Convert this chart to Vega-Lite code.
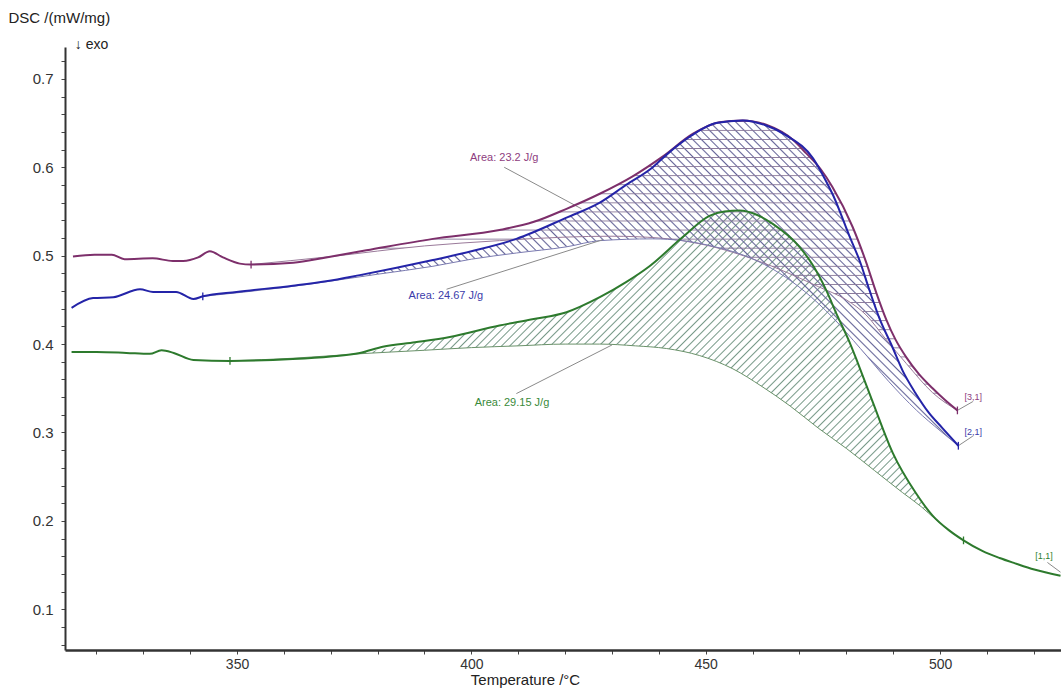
{
  "$schema": "https://vega.github.io/schema/vega-lite/v6.json",
  "width": 996,
  "height": 603,
  "autosize": "none",
  "padding": {"left": 65, "top": 47, "right": 0, "bottom": 38},
  "background": "white",
  "config": {"view": {"stroke": null}, "font": "Liberation Sans"},
  "datasets": {
    "curves": [
      {"s":"p","T":315,"v":0.499},{"s":"p","T":319.6,"v":0.501},{"s":"p","T":323.3,"v":0.501},{"s":"p","T":326,"v":0.496},{"s":"p","T":332,"v":0.497},{"s":"p","T":336.3,"v":0.494},{"s":"p","T":338.5,"v":0.494},{"s":"p","T":341.7,"v":0.498},{"s":"p","T":344.2,"v":0.505},{"s":"p","T":347,"v":0.498},{"s":"p","T":350.6,"v":0.491},{"s":"p","T":353,"v":0.490},{"s":"p","T":362,"v":0.492},{"s":"p","T":369,"v":0.498},{"s":"p","T":377.6,"v":0.506},{"s":"p","T":391.8,"v":0.519},{"s":"p","T":406,"v":0.529},{"s":"p","T":413.2,"v":0.538},{"s":"p","T":420.3,"v":0.553},{"s":"p","T":427.4,"v":0.570},{"s":"p","T":434.5,"v":0.590},{"s":"p","T":440.8,"v":0.612},{"s":"p","T":447.3,"v":0.638},{"s":"p","T":452.9,"v":0.651},{"s":"p","T":457.9,"v":0.653},{"s":"p","T":462.9,"v":0.648},{"s":"p","T":468.6,"v":0.631},{"s":"p","T":471.4,"v":0.616},{"s":"p","T":474.5,"v":0.598},{"s":"p","T":477,"v":0.578},{"s":"p","T":481.3,"v":0.533},{"s":"p","T":484.2,"v":0.493},{"s":"p","T":486.4,"v":0.458},{"s":"p","T":488.5,"v":0.428},{"s":"p","T":490.5,"v":0.405},{"s":"p","T":492.8,"v":0.385},{"s":"p","T":495.5,"v":0.366},{"s":"p","T":498.4,"v":0.350},{"s":"p","T":501,"v":0.337},{"s":"p","T":503.7,"v":0.325},
      {"s":"b","T":314.7,"v":0.441},{"s":"b","T":319.3,"v":0.452},{"s":"b","T":323.6,"v":0.453},{"s":"b","T":329.3,"v":0.462},{"s":"b","T":332.1,"v":0.459},{"s":"b","T":337,"v":0.459},{"s":"b","T":340.7,"v":0.451},{"s":"b","T":342.7,"v":0.454},{"s":"b","T":349.9,"v":0.459},{"s":"b","T":361.9,"v":0.466},{"s":"b","T":369,"v":0.471},{"s":"b","T":376.2,"v":0.478},{"s":"b","T":391.8,"v":0.495},{"s":"b","T":400,"v":0.505},{"s":"b","T":409.6,"v":0.519},{"s":"b","T":420.3,"v":0.543},{"s":"b","T":427.4,"v":0.560},{"s":"b","T":433,"v":0.580},{"s":"b","T":438.7,"v":0.600},{"s":"b","T":441.6,"v":0.614},{"s":"b","T":447,"v":0.636},{"s":"b","T":452.2,"v":0.650},{"s":"b","T":457.9,"v":0.653},{"s":"b","T":462.5,"v":0.648},{"s":"b","T":467.2,"v":0.636},{"s":"b","T":472.9,"v":0.610},{"s":"b","T":475.6,"v":0.585},{"s":"b","T":477.2,"v":0.568},{"s":"b","T":480.6,"v":0.523},{"s":"b","T":483,"v":0.492},{"s":"b","T":484.8,"v":0.463},{"s":"b","T":487,"v":0.430},{"s":"b","T":489.8,"v":0.397},{"s":"b","T":492,"v":0.370},{"s":"b","T":494.7,"v":0.345},{"s":"b","T":497.5,"v":0.323},{"s":"b","T":500.5,"v":0.305},{"s":"b","T":503.9,"v":0.285},
      {"s":"g","T":314.7,"v":0.391},{"s":"g","T":320,"v":0.391},{"s":"g","T":326.4,"v":0.390},{"s":"g","T":331.4,"v":0.389},{"s":"g","T":333.9,"v":0.393},{"s":"g","T":336.5,"v":0.390},{"s":"g","T":340.7,"v":0.382},{"s":"g","T":348.5,"v":0.381},{"s":"g","T":361.9,"v":0.383},{"s":"g","T":370,"v":0.386},{"s":"g","T":376.2,"v":0.390},{"s":"g","T":381.1,"v":0.397},{"s":"g","T":388,"v":0.402},{"s":"g","T":395.4,"v":0.408},{"s":"g","T":406,"v":0.421},{"s":"g","T":413,"v":0.428},{"s":"g","T":420.3,"v":0.436},{"s":"g","T":427.4,"v":0.453},{"s":"g","T":433,"v":0.470},{"s":"g","T":438,"v":0.488},{"s":"g","T":445.1,"v":0.521},{"s":"g","T":450.8,"v":0.545},{"s":"g","T":454,"v":0.550},{"s":"g","T":457.2,"v":0.551},{"s":"g","T":461,"v":0.546},{"s":"g","T":464.3,"v":0.536},{"s":"g","T":470,"v":0.510},{"s":"g","T":473,"v":0.488},{"s":"g","T":475.7,"v":0.461},{"s":"g","T":478,"v":0.433},{"s":"g","T":480.7,"v":0.402},{"s":"g","T":482.5,"v":0.378},{"s":"g","T":485.6,"v":0.335},{"s":"g","T":489.9,"v":0.277},{"s":"g","T":494.9,"v":0.231},{"s":"g","T":498.4,"v":0.206},{"s":"g","T":502,"v":0.189},{"s":"g","T":505,"v":0.178},{"s":"g","T":509,"v":0.166},{"s":"g","T":512.7,"v":0.158},{"s":"g","T":516,"v":0.152},{"s":"g","T":520.1,"v":0.145},{"s":"g","T":525.7,"v":0.138}
    ],
    "bases": [
      {"s":"p","T":353,"v":0.490},{"s":"p","T":370,"v":0.499},{"s":"p","T":390,"v":0.511},{"s":"p","T":406,"v":0.517},{"s":"p","T":420,"v":0.521},{"s":"p","T":430,"v":0.522},{"s":"p","T":440,"v":0.520},{"s":"p","T":450,"v":0.512},{"s":"p","T":458,"v":0.500},{"s":"p","T":466,"v":0.484},{"s":"p","T":474,"v":0.465},{"s":"p","T":480,"v":0.450},{"s":"p","T":484.2,"v":0.433},{"s":"p","T":488.5,"v":0.405},{"s":"p","T":492.8,"v":0.378},{"s":"p","T":498.4,"v":0.345},{"s":"p","T":503.7,"v":0.325},
      {"s":"b","T":342.7,"v":0.454},{"s":"b","T":360,"v":0.464},{"s":"b","T":380,"v":0.479},{"s":"b","T":391.8,"v":0.488},{"s":"b","T":400,"v":0.496},{"s":"b","T":409.6,"v":0.503},{"s":"b","T":420.3,"v":0.510},{"s":"b","T":427.4,"v":0.517},{"s":"b","T":438.7,"v":0.519},{"s":"b","T":445,"v":0.517},{"s":"b","T":452,"v":0.510},{"s":"b","T":459.3,"v":0.498},{"s":"b","T":465.8,"v":0.480},{"s":"b","T":471,"v":0.460},{"s":"b","T":477.1,"v":0.430},{"s":"b","T":483,"v":0.395},{"s":"b","T":489,"v":0.358},{"s":"b","T":495,"v":0.325},{"s":"b","T":500,"v":0.302},{"s":"b","T":503.9,"v":0.285},
      {"s":"g","T":348.5,"v":0.381},{"s":"g","T":362,"v":0.384},{"s":"g","T":376,"v":0.389},{"s":"g","T":390,"v":0.393},{"s":"g","T":400,"v":0.396},{"s":"g","T":410,"v":0.398},{"s":"g","T":420,"v":0.400},{"s":"g","T":427.4,"v":0.400},{"s":"g","T":435,"v":0.398},{"s":"g","T":441.6,"v":0.395},{"s":"g","T":448.7,"v":0.387},{"s":"g","T":455.8,"v":0.372},{"s":"g","T":462,"v":0.352},{"s":"g","T":468,"v":0.330},{"s":"g","T":474,"v":0.305},{"s":"g","T":480,"v":0.282},{"s":"g","T":486,"v":0.257},{"s":"g","T":492,"v":0.232},{"s":"g","T":496,"v":0.216},{"s":"g","T":499,"v":0.202},{"s":"g","T":502,"v":0.189},{"s":"g","T":505,"v":0.178}
    ],
    "regions": [
      {"s":"g","T":348.5,"hi":0.381,"lo":0.381},{"s":"g","T":362,"hi":0.383,"lo":0.383},{"s":"g","T":376,"hi":0.390,"lo":0.389},{"s":"g","T":390,"hi":0.403,"lo":0.393},{"s":"g","T":400,"hi":0.413,"lo":0.396},{"s":"g","T":410,"hi":0.425,"lo":0.398},{"s":"g","T":420,"hi":0.436,"lo":0.400},{"s":"g","T":427.4,"hi":0.453,"lo":0.400},{"s":"g","T":435,"hi":0.476,"lo":0.398},{"s":"g","T":441.6,"hi":0.503,"lo":0.395},{"s":"g","T":448.7,"hi":0.537,"lo":0.387},{"s":"g","T":455.8,"hi":0.551,"lo":0.372},{"s":"g","T":462,"hi":0.543,"lo":0.352},{"s":"g","T":468,"hi":0.520,"lo":0.330},{"s":"g","T":474,"hi":0.478,"lo":0.305},{"s":"g","T":480,"hi":0.412,"lo":0.282},{"s":"g","T":486,"hi":0.330,"lo":0.257},{"s":"g","T":492,"hi":0.255,"lo":0.232},{"s":"g","T":496,"hi":0.222,"lo":0.216},{"s":"g","T":499,"hi":0.202,"lo":0.202},
      {"s":"b","T":342.7,"hi":0.454,"lo":0.454},{"s":"b","T":360,"hi":0.465,"lo":0.464},{"s":"b","T":380,"hi":0.481,"lo":0.479},{"s":"b","T":391.8,"hi":0.495,"lo":0.488},{"s":"b","T":400,"hi":0.505,"lo":0.496},{"s":"b","T":409.6,"hi":0.519,"lo":0.503},{"s":"b","T":420.3,"hi":0.543,"lo":0.510},{"s":"b","T":427.4,"hi":0.560,"lo":0.517},{"s":"b","T":438.7,"hi":0.600,"lo":0.519},{"s":"b","T":445,"hi":0.628,"lo":0.517},{"s":"b","T":452,"hi":0.649,"lo":0.510},{"s":"b","T":459.3,"hi":0.652,"lo":0.498},{"s":"b","T":465.8,"hi":0.640,"lo":0.480},{"s":"b","T":471,"hi":0.620,"lo":0.460},{"s":"b","T":477.1,"hi":0.569,"lo":0.430},{"s":"b","T":483,"hi":0.492,"lo":0.395},{"s":"b","T":489,"hi":0.406,"lo":0.358},{"s":"b","T":495,"hi":0.342,"lo":0.325},{"s":"b","T":500,"hi":0.308,"lo":0.302},{"s":"b","T":503.9,"hi":0.285,"lo":0.285},
      {"s":"p","T":353,"hi":0.490,"lo":0.490},{"s":"p","T":370,"hi":0.499,"lo":0.499},{"s":"p","T":390,"hi":0.518,"lo":0.511},{"s":"p","T":406,"hi":0.529,"lo":0.517},{"s":"p","T":420,"hi":0.552,"lo":0.521},{"s":"p","T":430,"hi":0.577,"lo":0.522},{"s":"p","T":440,"hi":0.609,"lo":0.520},{"s":"p","T":450,"hi":0.646,"lo":0.512},{"s":"p","T":458,"hi":0.653,"lo":0.500},{"s":"p","T":466,"hi":0.639,"lo":0.484},{"s":"p","T":474,"hi":0.601,"lo":0.465},{"s":"p","T":480,"hi":0.548,"lo":0.450},{"s":"p","T":484.2,"hi":0.493,"lo":0.433},{"s":"p","T":488.5,"hi":0.428,"lo":0.405},{"s":"p","T":492.8,"hi":0.385,"lo":0.378},{"s":"p","T":498.4,"hi":0.350,"lo":0.345},{"s":"p","T":503.7,"hi":0.325,"lo":0.325}
    ],
    "marks": [
      {"s":"p","T":353,"v":0.490},{"s":"p","T":503.7,"v":0.325},
      {"s":"b","T":342.7,"v":0.454},{"s":"b","T":503.9,"v":0.285},
      {"s":"g","T":348.5,"v":0.381},{"s":"g","T":505,"v":0.178}
    ],
    "leaders": [
      {"id":"a1","T":407,"v":0.600},{"id":"a1","T":423.5,"v":0.553},
      {"id":"a2","T":394.7,"v":0.462},{"id":"a2","T":428,"v":0.518},
      {"id":"a3","T":409.6,"v":0.344},{"id":"a3","T":430,"v":0.399},
      {"id":"i3","T":503.7,"v":0.325},{"id":"i3","T":507,"v":0.335},
      {"id":"i2","T":503.9,"v":0.285},{"id":"i2","T":507,"v":0.296},
      {"id":"i1","T":522.9,"v":0.153},{"id":"i1","T":525.7,"v":0.142}
    ],
    "arealabels": [
      {"s":"p","T":399.7,"v":0.611,"text":"Area: 23.2 J/g"},
      {"s":"b","T":386.6,"v":0.454,"text":"Area: 24.67 J/g"},
      {"s":"g","T":400.7,"v":0.333,"text":"Area: 29.15 J/g"}
    ],
    "idlabels": [
      {"s":"p","T":505.2,"v":0.340,"text":"[3,1]"},
      {"s":"b","T":505.2,"v":0.301,"text":"[2,1]"},
      {"s":"g","T":520.3,"v":0.160,"text":"[1,1]"}
    ],
    "notes": [
      {"T":315.4,"v":0.738,"text":"↓ exo"}
    ]
  },
  "encoding": {
    "x": {
      "field": "T", "type": "quantitative",
      "scale": {"domain": [313.3, 525.8], "nice": false, "zero": false},
      "axis": {
        "title": "Temperature /°C", "titleX": 460, "titleY": 29, "titleAlign": "center", "titleBaseline": "middle",
        "titleFontSize": 15, "titleFontWeight": "normal", "titleColor": "#222",
        "values": [320,330,340,350,360,370,380,390,400,410,420,430,440,450,460,470,480,490,500,510,520],
        "labelExpr": "datum.value % 50 === 0 ? datum.label : ''",
        "grid": false, "domainColor": "#333", "domainWidth": 2.5, "tickColor": "#444", "tickSize": 4, "tickWidth": 1,
        "labelFontSize": 14, "labelColor": "#333", "labelPadding": 3
      }
    },
    "y": {
      "field": "v", "type": "quantitative",
      "scale": {"domain": [0.054, 0.736], "nice": false, "zero": false},
      "axis": {
        "title": "DSC /(mW/mg)", "titleAngle": 0, "titleX": -57, "titleY": -30, "titleAlign": "left", "titleBaseline": "middle",
        "titleFontSize": 15, "titleFontWeight": "normal", "titleColor": "#222",
        "values": [0.06,0.08,0.1,0.12,0.14,0.16,0.18,0.2,0.22,0.24,0.26,0.28,0.3,0.32,0.34,0.36,0.38,0.4,0.42,0.44,0.46,0.48,0.5,0.52,0.54,0.56,0.58,0.6,0.62,0.64,0.66,0.68,0.7,0.72],
        "labelExpr": "abs(datum.value*10 - round(datum.value*10)) < 0.001 ? format(datum.value, '.1f') : ''",
        "grid": false, "domainColor": "#333", "domainWidth": 2, "tickColor": "#444", "tickSize": 4, "tickWidth": 1,
        "labelFontSize": 15, "labelColor": "#333", "labelPadding": 8
      }
    }
  },
  "resolve": {"scale": {"color": "independent", "stroke": "independent", "fill": "independent"}},
  "layer": [
    {
      "data": {"name": "regions"},
      "transform": [{"filter": "datum.s === 'g'"}],
      "mark": {"type": "area", "interpolate": "monotone", "fill": {"gradient": "linear", "x1": 0, "y1": 0, "x2": 1.2066, "y2": 0.5278, "stops": [
{"offset":0,"color":"#7980"},{"offset":0.0014,"color":"#798"},{"offset":0.0028,"color":"#7980"},
{"offset":0.008,"color":"#7980"},{"offset":0.0094,"color":"#798"},{"offset":0.0108,"color":"#7980"},
{"offset":0.016,"color":"#7980"},{"offset":0.0174,"color":"#798"},{"offset":0.0188,"color":"#7980"},
{"offset":0.024,"color":"#7980"},{"offset":0.0254,"color":"#798"},{"offset":0.0268,"color":"#7980"},
{"offset":0.032,"color":"#7980"},{"offset":0.0334,"color":"#798"},{"offset":0.0348,"color":"#7980"},
{"offset":0.04,"color":"#7980"},{"offset":0.0414,"color":"#798"},{"offset":0.0428,"color":"#7980"},
{"offset":0.048,"color":"#7980"},{"offset":0.0494,"color":"#798"},{"offset":0.0508,"color":"#7980"},
{"offset":0.056,"color":"#7980"},{"offset":0.0574,"color":"#798"},{"offset":0.0588,"color":"#7980"},
{"offset":0.064,"color":"#7980"},{"offset":0.0654,"color":"#798"},{"offset":0.0668,"color":"#7980"},
{"offset":0.072,"color":"#7980"},{"offset":0.0734,"color":"#798"},{"offset":0.0748,"color":"#7980"},
{"offset":0.08,"color":"#7980"},{"offset":0.0814,"color":"#798"},{"offset":0.0828,"color":"#7980"},
{"offset":0.088,"color":"#7980"},{"offset":0.0894,"color":"#798"},{"offset":0.0908,"color":"#7980"},
{"offset":0.096,"color":"#7980"},{"offset":0.0974,"color":"#798"},{"offset":0.0988,"color":"#7980"},
{"offset":0.104,"color":"#7980"},{"offset":0.1054,"color":"#798"},{"offset":0.1068,"color":"#7980"},
{"offset":0.112,"color":"#7980"},{"offset":0.1134,"color":"#798"},{"offset":0.1148,"color":"#7980"},
{"offset":0.12,"color":"#7980"},{"offset":0.1214,"color":"#798"},{"offset":0.1228,"color":"#7980"},
{"offset":0.128,"color":"#7980"},{"offset":0.1294,"color":"#798"},{"offset":0.1308,"color":"#7980"},
{"offset":0.136,"color":"#7980"},{"offset":0.1374,"color":"#798"},{"offset":0.1388,"color":"#7980"},
{"offset":0.144,"color":"#7980"},{"offset":0.1454,"color":"#798"},{"offset":0.1468,"color":"#7980"},
{"offset":0.152,"color":"#7980"},{"offset":0.1534,"color":"#798"},{"offset":0.1548,"color":"#7980"},
{"offset":0.16,"color":"#7980"},{"offset":0.1614,"color":"#798"},{"offset":0.1628,"color":"#7980"},
{"offset":0.168,"color":"#7980"},{"offset":0.1694,"color":"#798"},{"offset":0.1708,"color":"#7980"},
{"offset":0.176,"color":"#7980"},{"offset":0.1774,"color":"#798"},{"offset":0.1788,"color":"#7980"},
{"offset":0.184,"color":"#7980"},{"offset":0.1854,"color":"#798"},{"offset":0.1868,"color":"#7980"},
{"offset":0.192,"color":"#7980"},{"offset":0.1934,"color":"#798"},{"offset":0.1948,"color":"#7980"},
{"offset":0.2,"color":"#7980"},{"offset":0.2014,"color":"#798"},{"offset":0.2028,"color":"#7980"},
{"offset":0.208,"color":"#7980"},{"offset":0.2094,"color":"#798"},{"offset":0.2108,"color":"#7980"},
{"offset":0.216,"color":"#7980"},{"offset":0.2174,"color":"#798"},{"offset":0.2188,"color":"#7980"},
{"offset":0.224,"color":"#7980"},{"offset":0.2254,"color":"#798"},{"offset":0.2268,"color":"#7980"},
{"offset":0.232,"color":"#7980"},{"offset":0.2334,"color":"#798"},{"offset":0.2348,"color":"#7980"},
{"offset":0.24,"color":"#7980"},{"offset":0.2414,"color":"#798"},{"offset":0.2428,"color":"#7980"},
{"offset":0.248,"color":"#7980"},{"offset":0.2494,"color":"#798"},{"offset":0.2508,"color":"#7980"},
{"offset":0.256,"color":"#7980"},{"offset":0.2574,"color":"#798"},{"offset":0.2588,"color":"#7980"},
{"offset":0.264,"color":"#7980"},{"offset":0.2654,"color":"#798"},{"offset":0.2668,"color":"#7980"},
{"offset":0.272,"color":"#7980"},{"offset":0.2734,"color":"#798"},{"offset":0.2748,"color":"#7980"},
{"offset":0.28,"color":"#7980"},{"offset":0.2814,"color":"#798"},{"offset":0.2828,"color":"#7980"},
{"offset":0.288,"color":"#7980"},{"offset":0.2894,"color":"#798"},{"offset":0.2908,"color":"#7980"},
{"offset":0.296,"color":"#7980"},{"offset":0.2974,"color":"#798"},{"offset":0.2988,"color":"#7980"},
{"offset":0.304,"color":"#7980"},{"offset":0.3054,"color":"#798"},{"offset":0.3068,"color":"#7980"},
{"offset":0.312,"color":"#7980"},{"offset":0.3134,"color":"#798"},{"offset":0.3148,"color":"#7980"},
{"offset":0.32,"color":"#7980"},{"offset":0.3214,"color":"#798"},{"offset":0.3228,"color":"#7980"},
{"offset":0.328,"color":"#7980"},{"offset":0.3294,"color":"#798"},{"offset":0.3308,"color":"#7980"},
{"offset":0.336,"color":"#7980"},{"offset":0.3374,"color":"#798"},{"offset":0.3388,"color":"#7980"},
{"offset":0.344,"color":"#7980"},{"offset":0.3454,"color":"#798"},{"offset":0.3468,"color":"#7980"},
{"offset":0.352,"color":"#7980"},{"offset":0.3534,"color":"#798"},{"offset":0.3548,"color":"#7980"},
{"offset":0.36,"color":"#7980"},{"offset":0.3614,"color":"#798"},{"offset":0.3628,"color":"#7980"},
{"offset":0.368,"color":"#7980"},{"offset":0.3694,"color":"#798"},{"offset":0.3708,"color":"#7980"},
{"offset":0.376,"color":"#7980"},{"offset":0.3774,"color":"#798"},{"offset":0.3788,"color":"#7980"},
{"offset":0.384,"color":"#7980"},{"offset":0.3854,"color":"#798"},{"offset":0.3868,"color":"#7980"},
{"offset":0.392,"color":"#7980"},{"offset":0.3934,"color":"#798"},{"offset":0.3948,"color":"#7980"},
{"offset":0.4,"color":"#7980"},{"offset":0.4014,"color":"#798"},{"offset":0.4028,"color":"#7980"},
{"offset":0.408,"color":"#7980"},{"offset":0.4094,"color":"#798"},{"offset":0.4108,"color":"#7980"},
{"offset":0.416,"color":"#7980"},{"offset":0.4174,"color":"#798"},{"offset":0.4188,"color":"#7980"},
{"offset":0.424,"color":"#7980"},{"offset":0.4254,"color":"#798"},{"offset":0.4268,"color":"#7980"},
{"offset":0.432,"color":"#7980"},{"offset":0.4334,"color":"#798"},{"offset":0.4348,"color":"#7980"},
{"offset":0.44,"color":"#7980"},{"offset":0.4414,"color":"#798"},{"offset":0.4428,"color":"#7980"},
{"offset":0.448,"color":"#7980"},{"offset":0.4494,"color":"#798"},{"offset":0.4508,"color":"#7980"},
{"offset":0.456,"color":"#7980"},{"offset":0.4574,"color":"#798"},{"offset":0.4588,"color":"#7980"},
{"offset":0.464,"color":"#7980"},{"offset":0.4654,"color":"#798"},{"offset":0.4668,"color":"#7980"},
{"offset":0.472,"color":"#7980"},{"offset":0.4734,"color":"#798"},{"offset":0.4748,"color":"#7980"},
{"offset":0.48,"color":"#7980"},{"offset":0.4814,"color":"#798"},{"offset":0.4828,"color":"#7980"},
{"offset":0.488,"color":"#7980"},{"offset":0.4894,"color":"#798"},{"offset":0.4908,"color":"#7980"},
{"offset":0.496,"color":"#7980"},{"offset":0.4974,"color":"#798"},{"offset":0.4988,"color":"#7980"},
{"offset":0.504,"color":"#7980"},{"offset":0.5054,"color":"#798"},{"offset":0.5068,"color":"#7980"},
{"offset":0.512,"color":"#7980"},{"offset":0.5134,"color":"#798"},{"offset":0.5148,"color":"#7980"},
{"offset":0.52,"color":"#7980"},{"offset":0.5214,"color":"#798"},{"offset":0.5228,"color":"#7980"},
{"offset":0.528,"color":"#7980"},{"offset":0.5294,"color":"#798"},{"offset":0.5308,"color":"#7980"},
{"offset":0.536,"color":"#7980"},{"offset":0.5374,"color":"#798"},{"offset":0.5388,"color":"#7980"},
{"offset":0.544,"color":"#7980"},{"offset":0.5454,"color":"#798"},{"offset":0.5468,"color":"#7980"},
{"offset":0.552,"color":"#7980"},{"offset":0.5534,"color":"#798"},{"offset":0.5548,"color":"#7980"},
{"offset":0.56,"color":"#7980"},{"offset":0.5614,"color":"#798"},{"offset":0.5628,"color":"#7980"},
{"offset":0.568,"color":"#7980"},{"offset":0.5694,"color":"#798"},{"offset":0.5708,"color":"#7980"},
{"offset":0.576,"color":"#7980"},{"offset":0.5774,"color":"#798"},{"offset":0.5788,"color":"#7980"},
{"offset":0.584,"color":"#7980"},{"offset":0.5854,"color":"#798"},{"offset":0.5868,"color":"#7980"},
{"offset":0.592,"color":"#7980"},{"offset":0.5934,"color":"#798"},{"offset":0.5948,"color":"#7980"},
{"offset":0.6,"color":"#7980"},{"offset":0.6014,"color":"#798"},{"offset":0.6028,"color":"#7980"},
{"offset":0.608,"color":"#7980"},{"offset":0.6094,"color":"#798"},{"offset":0.6108,"color":"#7980"},
{"offset":0.616,"color":"#7980"},{"offset":0.6174,"color":"#798"},{"offset":0.6188,"color":"#7980"},
{"offset":0.624,"color":"#7980"},{"offset":0.6254,"color":"#798"},{"offset":0.6268,"color":"#7980"},
{"offset":0.632,"color":"#7980"},{"offset":0.6334,"color":"#798"},{"offset":0.6348,"color":"#7980"},
{"offset":0.64,"color":"#7980"},{"offset":0.6414,"color":"#798"},{"offset":0.6428,"color":"#7980"},
{"offset":0.648,"color":"#7980"},{"offset":0.6494,"color":"#798"},{"offset":0.6508,"color":"#7980"},
{"offset":0.656,"color":"#7980"},{"offset":0.6574,"color":"#798"},{"offset":0.6588,"color":"#7980"},
{"offset":0.664,"color":"#7980"},{"offset":0.6654,"color":"#798"},{"offset":0.6668,"color":"#7980"},
{"offset":0.672,"color":"#7980"},{"offset":0.6734,"color":"#798"},{"offset":0.6748,"color":"#7980"},
{"offset":0.68,"color":"#7980"},{"offset":0.6814,"color":"#798"},{"offset":0.6828,"color":"#7980"},
{"offset":0.688,"color":"#7980"},{"offset":0.6894,"color":"#798"},{"offset":0.6908,"color":"#7980"},
{"offset":0.696,"color":"#7980"},{"offset":0.6974,"color":"#798"},{"offset":0.6988,"color":"#7980"},
{"offset":0.704,"color":"#7980"},{"offset":0.7054,"color":"#798"},{"offset":0.7068,"color":"#7980"},
{"offset":0.712,"color":"#7980"},{"offset":0.7134,"color":"#798"},{"offset":0.7148,"color":"#7980"},
{"offset":0.72,"color":"#7980"},{"offset":0.7214,"color":"#798"},{"offset":0.7228,"color":"#7980"},
{"offset":0.728,"color":"#7980"},{"offset":0.7294,"color":"#798"},{"offset":0.7308,"color":"#7980"},
{"offset":0.736,"color":"#7980"},{"offset":0.7374,"color":"#798"},{"offset":0.7388,"color":"#7980"},
{"offset":0.744,"color":"#7980"},{"offset":0.7454,"color":"#798"},{"offset":0.7468,"color":"#7980"},
{"offset":0.752,"color":"#7980"},{"offset":0.7534,"color":"#798"},{"offset":0.7548,"color":"#7980"},
{"offset":0.76,"color":"#7980"},{"offset":0.7614,"color":"#798"},{"offset":0.7628,"color":"#7980"},
{"offset":0.768,"color":"#7980"},{"offset":0.7694,"color":"#798"},{"offset":0.7708,"color":"#7980"},
{"offset":0.776,"color":"#7980"},{"offset":0.7774,"color":"#798"},{"offset":0.7788,"color":"#7980"},
{"offset":0.784,"color":"#7980"},{"offset":0.7854,"color":"#798"},{"offset":0.7868,"color":"#7980"},
{"offset":0.792,"color":"#7980"},{"offset":0.7934,"color":"#798"},{"offset":0.7948,"color":"#7980"},
{"offset":0.8,"color":"#7980"},{"offset":0.8014,"color":"#798"},{"offset":0.8028,"color":"#7980"},
{"offset":0.808,"color":"#7980"},{"offset":0.8094,"color":"#798"},{"offset":0.8108,"color":"#7980"},
{"offset":0.816,"color":"#7980"},{"offset":0.8174,"color":"#798"},{"offset":0.8188,"color":"#7980"},
{"offset":0.824,"color":"#7980"},{"offset":0.8254,"color":"#798"},{"offset":0.8268,"color":"#7980"},
{"offset":0.832,"color":"#7980"},{"offset":0.8334,"color":"#798"},{"offset":0.8348,"color":"#7980"},
{"offset":0.84,"color":"#7980"},{"offset":0.8414,"color":"#798"},{"offset":0.8428,"color":"#7980"},
{"offset":0.848,"color":"#7980"},{"offset":0.8494,"color":"#798"},{"offset":0.8508,"color":"#7980"},
{"offset":0.856,"color":"#7980"},{"offset":0.8574,"color":"#798"},{"offset":0.8588,"color":"#7980"},
{"offset":0.864,"color":"#7980"},{"offset":0.8654,"color":"#798"},{"offset":0.8668,"color":"#7980"},
{"offset":0.872,"color":"#7980"},{"offset":0.8734,"color":"#798"},{"offset":0.8748,"color":"#7980"},
{"offset":0.88,"color":"#7980"},{"offset":0.8814,"color":"#798"},{"offset":0.8828,"color":"#7980"},
{"offset":0.888,"color":"#7980"},{"offset":0.8894,"color":"#798"},{"offset":0.8908,"color":"#7980"},
{"offset":0.896,"color":"#7980"},{"offset":0.8974,"color":"#798"},{"offset":0.8988,"color":"#7980"},
{"offset":0.904,"color":"#7980"},{"offset":0.9054,"color":"#798"},{"offset":0.9068,"color":"#7980"},
{"offset":0.912,"color":"#7980"},{"offset":0.9134,"color":"#798"},{"offset":0.9148,"color":"#7980"},
{"offset":0.92,"color":"#7980"},{"offset":0.9214,"color":"#798"},{"offset":0.9228,"color":"#7980"},
{"offset":0.928,"color":"#7980"},{"offset":0.9294,"color":"#798"},{"offset":0.9308,"color":"#7980"},
{"offset":0.936,"color":"#7980"},{"offset":0.9374,"color":"#798"},{"offset":0.9388,"color":"#7980"},
{"offset":0.944,"color":"#7980"},{"offset":0.9454,"color":"#798"},{"offset":0.9468,"color":"#7980"},
{"offset":0.952,"color":"#7980"},{"offset":0.9534,"color":"#798"},{"offset":0.9548,"color":"#7980"},
{"offset":0.96,"color":"#7980"},{"offset":0.9614,"color":"#798"},{"offset":0.9628,"color":"#7980"},
{"offset":0.968,"color":"#7980"},{"offset":0.9694,"color":"#798"},{"offset":0.9708,"color":"#7980"},
{"offset":0.976,"color":"#7980"},{"offset":0.9774,"color":"#798"},{"offset":0.9788,"color":"#7980"},
{"offset":0.984,"color":"#7980"},{"offset":0.9854,"color":"#798"},{"offset":0.9868,"color":"#7980"},
{"offset":0.992,"color":"#7980"},{"offset":0.9934,"color":"#798"},{"offset":0.9948,"color":"#7980"},
{"offset":1,"color":"#7980"}
      ]}},
      "encoding": {
        "y": {"field": "hi", "type": "quantitative", "title": "DSC /(mW/mg)"},
        "y2": {"field": "lo"}
      }
    },
    {
      "data": {"name": "regions"},
      "transform": [{"filter": "datum.s === 'b'"}],
      "mark": {"type": "area", "interpolate": "monotone", "fill": {"gradient": "linear", "x1": 0, "y1": 1, "x2": 1.2068, "y2": 0.4802, "stops": [
{"offset":0,"color":"#6690"},{"offset":0.0014,"color":"#669"},{"offset":0.0028,"color":"#6690"},
{"offset":0.008,"color":"#6690"},{"offset":0.0094,"color":"#669"},{"offset":0.0108,"color":"#6690"},
{"offset":0.016,"color":"#6690"},{"offset":0.0174,"color":"#669"},{"offset":0.0188,"color":"#6690"},
{"offset":0.024,"color":"#6690"},{"offset":0.0254,"color":"#669"},{"offset":0.0268,"color":"#6690"},
{"offset":0.032,"color":"#6690"},{"offset":0.0334,"color":"#669"},{"offset":0.0348,"color":"#6690"},
{"offset":0.04,"color":"#6690"},{"offset":0.0414,"color":"#669"},{"offset":0.0428,"color":"#6690"},
{"offset":0.048,"color":"#6690"},{"offset":0.0494,"color":"#669"},{"offset":0.0508,"color":"#6690"},
{"offset":0.056,"color":"#6690"},{"offset":0.0574,"color":"#669"},{"offset":0.0588,"color":"#6690"},
{"offset":0.064,"color":"#6690"},{"offset":0.0654,"color":"#669"},{"offset":0.0668,"color":"#6690"},
{"offset":0.072,"color":"#6690"},{"offset":0.0734,"color":"#669"},{"offset":0.0748,"color":"#6690"},
{"offset":0.08,"color":"#6690"},{"offset":0.0814,"color":"#669"},{"offset":0.0828,"color":"#6690"},
{"offset":0.088,"color":"#6690"},{"offset":0.0894,"color":"#669"},{"offset":0.0908,"color":"#6690"},
{"offset":0.096,"color":"#6690"},{"offset":0.0974,"color":"#669"},{"offset":0.0988,"color":"#6690"},
{"offset":0.104,"color":"#6690"},{"offset":0.1054,"color":"#669"},{"offset":0.1068,"color":"#6690"},
{"offset":0.112,"color":"#6690"},{"offset":0.1134,"color":"#669"},{"offset":0.1148,"color":"#6690"},
{"offset":0.12,"color":"#6690"},{"offset":0.1214,"color":"#669"},{"offset":0.1228,"color":"#6690"},
{"offset":0.128,"color":"#6690"},{"offset":0.1294,"color":"#669"},{"offset":0.1308,"color":"#6690"},
{"offset":0.136,"color":"#6690"},{"offset":0.1374,"color":"#669"},{"offset":0.1388,"color":"#6690"},
{"offset":0.144,"color":"#6690"},{"offset":0.1454,"color":"#669"},{"offset":0.1468,"color":"#6690"},
{"offset":0.152,"color":"#6690"},{"offset":0.1534,"color":"#669"},{"offset":0.1548,"color":"#6690"},
{"offset":0.16,"color":"#6690"},{"offset":0.1614,"color":"#669"},{"offset":0.1628,"color":"#6690"},
{"offset":0.168,"color":"#6690"},{"offset":0.1694,"color":"#669"},{"offset":0.1708,"color":"#6690"},
{"offset":0.176,"color":"#6690"},{"offset":0.1774,"color":"#669"},{"offset":0.1788,"color":"#6690"},
{"offset":0.184,"color":"#6690"},{"offset":0.1854,"color":"#669"},{"offset":0.1868,"color":"#6690"},
{"offset":0.192,"color":"#6690"},{"offset":0.1934,"color":"#669"},{"offset":0.1948,"color":"#6690"},
{"offset":0.2,"color":"#6690"},{"offset":0.2014,"color":"#669"},{"offset":0.2028,"color":"#6690"},
{"offset":0.208,"color":"#6690"},{"offset":0.2094,"color":"#669"},{"offset":0.2108,"color":"#6690"},
{"offset":0.216,"color":"#6690"},{"offset":0.2174,"color":"#669"},{"offset":0.2188,"color":"#6690"},
{"offset":0.224,"color":"#6690"},{"offset":0.2254,"color":"#669"},{"offset":0.2268,"color":"#6690"},
{"offset":0.232,"color":"#6690"},{"offset":0.2334,"color":"#669"},{"offset":0.2348,"color":"#6690"},
{"offset":0.24,"color":"#6690"},{"offset":0.2414,"color":"#669"},{"offset":0.2428,"color":"#6690"},
{"offset":0.248,"color":"#6690"},{"offset":0.2494,"color":"#669"},{"offset":0.2508,"color":"#6690"},
{"offset":0.256,"color":"#6690"},{"offset":0.2574,"color":"#669"},{"offset":0.2588,"color":"#6690"},
{"offset":0.264,"color":"#6690"},{"offset":0.2654,"color":"#669"},{"offset":0.2668,"color":"#6690"},
{"offset":0.272,"color":"#6690"},{"offset":0.2734,"color":"#669"},{"offset":0.2748,"color":"#6690"},
{"offset":0.28,"color":"#6690"},{"offset":0.2814,"color":"#669"},{"offset":0.2828,"color":"#6690"},
{"offset":0.288,"color":"#6690"},{"offset":0.2894,"color":"#669"},{"offset":0.2908,"color":"#6690"},
{"offset":0.296,"color":"#6690"},{"offset":0.2974,"color":"#669"},{"offset":0.2988,"color":"#6690"},
{"offset":0.304,"color":"#6690"},{"offset":0.3054,"color":"#669"},{"offset":0.3068,"color":"#6690"},
{"offset":0.312,"color":"#6690"},{"offset":0.3134,"color":"#669"},{"offset":0.3148,"color":"#6690"},
{"offset":0.32,"color":"#6690"},{"offset":0.3214,"color":"#669"},{"offset":0.3228,"color":"#6690"},
{"offset":0.328,"color":"#6690"},{"offset":0.3294,"color":"#669"},{"offset":0.3308,"color":"#6690"},
{"offset":0.336,"color":"#6690"},{"offset":0.3374,"color":"#669"},{"offset":0.3388,"color":"#6690"},
{"offset":0.344,"color":"#6690"},{"offset":0.3454,"color":"#669"},{"offset":0.3468,"color":"#6690"},
{"offset":0.352,"color":"#6690"},{"offset":0.3534,"color":"#669"},{"offset":0.3548,"color":"#6690"},
{"offset":0.36,"color":"#6690"},{"offset":0.3614,"color":"#669"},{"offset":0.3628,"color":"#6690"},
{"offset":0.368,"color":"#6690"},{"offset":0.3694,"color":"#669"},{"offset":0.3708,"color":"#6690"},
{"offset":0.376,"color":"#6690"},{"offset":0.3774,"color":"#669"},{"offset":0.3788,"color":"#6690"},
{"offset":0.384,"color":"#6690"},{"offset":0.3854,"color":"#669"},{"offset":0.3868,"color":"#6690"},
{"offset":0.392,"color":"#6690"},{"offset":0.3934,"color":"#669"},{"offset":0.3948,"color":"#6690"},
{"offset":0.4,"color":"#6690"},{"offset":0.4014,"color":"#669"},{"offset":0.4028,"color":"#6690"},
{"offset":0.408,"color":"#6690"},{"offset":0.4094,"color":"#669"},{"offset":0.4108,"color":"#6690"},
{"offset":0.416,"color":"#6690"},{"offset":0.4174,"color":"#669"},{"offset":0.4188,"color":"#6690"},
{"offset":0.424,"color":"#6690"},{"offset":0.4254,"color":"#669"},{"offset":0.4268,"color":"#6690"},
{"offset":0.432,"color":"#6690"},{"offset":0.4334,"color":"#669"},{"offset":0.4348,"color":"#6690"},
{"offset":0.44,"color":"#6690"},{"offset":0.4414,"color":"#669"},{"offset":0.4428,"color":"#6690"},
{"offset":0.448,"color":"#6690"},{"offset":0.4494,"color":"#669"},{"offset":0.4508,"color":"#6690"},
{"offset":0.456,"color":"#6690"},{"offset":0.4574,"color":"#669"},{"offset":0.4588,"color":"#6690"},
{"offset":0.464,"color":"#6690"},{"offset":0.4654,"color":"#669"},{"offset":0.4668,"color":"#6690"},
{"offset":0.472,"color":"#6690"},{"offset":0.4734,"color":"#669"},{"offset":0.4748,"color":"#6690"},
{"offset":0.48,"color":"#6690"},{"offset":0.4814,"color":"#669"},{"offset":0.4828,"color":"#6690"},
{"offset":0.488,"color":"#6690"},{"offset":0.4894,"color":"#669"},{"offset":0.4908,"color":"#6690"},
{"offset":0.496,"color":"#6690"},{"offset":0.4974,"color":"#669"},{"offset":0.4988,"color":"#6690"},
{"offset":0.504,"color":"#6690"},{"offset":0.5054,"color":"#669"},{"offset":0.5068,"color":"#6690"},
{"offset":0.512,"color":"#6690"},{"offset":0.5134,"color":"#669"},{"offset":0.5148,"color":"#6690"},
{"offset":0.52,"color":"#6690"},{"offset":0.5214,"color":"#669"},{"offset":0.5228,"color":"#6690"},
{"offset":0.528,"color":"#6690"},{"offset":0.5294,"color":"#669"},{"offset":0.5308,"color":"#6690"},
{"offset":0.536,"color":"#6690"},{"offset":0.5374,"color":"#669"},{"offset":0.5388,"color":"#6690"},
{"offset":0.544,"color":"#6690"},{"offset":0.5454,"color":"#669"},{"offset":0.5468,"color":"#6690"},
{"offset":0.552,"color":"#6690"},{"offset":0.5534,"color":"#669"},{"offset":0.5548,"color":"#6690"},
{"offset":0.56,"color":"#6690"},{"offset":0.5614,"color":"#669"},{"offset":0.5628,"color":"#6690"},
{"offset":0.568,"color":"#6690"},{"offset":0.5694,"color":"#669"},{"offset":0.5708,"color":"#6690"},
{"offset":0.576,"color":"#6690"},{"offset":0.5774,"color":"#669"},{"offset":0.5788,"color":"#6690"},
{"offset":0.584,"color":"#6690"},{"offset":0.5854,"color":"#669"},{"offset":0.5868,"color":"#6690"},
{"offset":0.592,"color":"#6690"},{"offset":0.5934,"color":"#669"},{"offset":0.5948,"color":"#6690"},
{"offset":0.6,"color":"#6690"},{"offset":0.6014,"color":"#669"},{"offset":0.6028,"color":"#6690"},
{"offset":0.608,"color":"#6690"},{"offset":0.6094,"color":"#669"},{"offset":0.6108,"color":"#6690"},
{"offset":0.616,"color":"#6690"},{"offset":0.6174,"color":"#669"},{"offset":0.6188,"color":"#6690"},
{"offset":0.624,"color":"#6690"},{"offset":0.6254,"color":"#669"},{"offset":0.6268,"color":"#6690"},
{"offset":0.632,"color":"#6690"},{"offset":0.6334,"color":"#669"},{"offset":0.6348,"color":"#6690"},
{"offset":0.64,"color":"#6690"},{"offset":0.6414,"color":"#669"},{"offset":0.6428,"color":"#6690"},
{"offset":0.648,"color":"#6690"},{"offset":0.6494,"color":"#669"},{"offset":0.6508,"color":"#6690"},
{"offset":0.656,"color":"#6690"},{"offset":0.6574,"color":"#669"},{"offset":0.6588,"color":"#6690"},
{"offset":0.664,"color":"#6690"},{"offset":0.6654,"color":"#669"},{"offset":0.6668,"color":"#6690"},
{"offset":0.672,"color":"#6690"},{"offset":0.6734,"color":"#669"},{"offset":0.6748,"color":"#6690"},
{"offset":0.68,"color":"#6690"},{"offset":0.6814,"color":"#669"},{"offset":0.6828,"color":"#6690"},
{"offset":0.688,"color":"#6690"},{"offset":0.6894,"color":"#669"},{"offset":0.6908,"color":"#6690"},
{"offset":0.696,"color":"#6690"},{"offset":0.6974,"color":"#669"},{"offset":0.6988,"color":"#6690"},
{"offset":0.704,"color":"#6690"},{"offset":0.7054,"color":"#669"},{"offset":0.7068,"color":"#6690"},
{"offset":0.712,"color":"#6690"},{"offset":0.7134,"color":"#669"},{"offset":0.7148,"color":"#6690"},
{"offset":0.72,"color":"#6690"},{"offset":0.7214,"color":"#669"},{"offset":0.7228,"color":"#6690"},
{"offset":0.728,"color":"#6690"},{"offset":0.7294,"color":"#669"},{"offset":0.7308,"color":"#6690"},
{"offset":0.736,"color":"#6690"},{"offset":0.7374,"color":"#669"},{"offset":0.7388,"color":"#6690"},
{"offset":0.744,"color":"#6690"},{"offset":0.7454,"color":"#669"},{"offset":0.7468,"color":"#6690"},
{"offset":0.752,"color":"#6690"},{"offset":0.7534,"color":"#669"},{"offset":0.7548,"color":"#6690"},
{"offset":0.76,"color":"#6690"},{"offset":0.7614,"color":"#669"},{"offset":0.7628,"color":"#6690"},
{"offset":0.768,"color":"#6690"},{"offset":0.7694,"color":"#669"},{"offset":0.7708,"color":"#6690"},
{"offset":0.776,"color":"#6690"},{"offset":0.7774,"color":"#669"},{"offset":0.7788,"color":"#6690"},
{"offset":0.784,"color":"#6690"},{"offset":0.7854,"color":"#669"},{"offset":0.7868,"color":"#6690"},
{"offset":0.792,"color":"#6690"},{"offset":0.7934,"color":"#669"},{"offset":0.7948,"color":"#6690"},
{"offset":0.8,"color":"#6690"},{"offset":0.8014,"color":"#669"},{"offset":0.8028,"color":"#6690"},
{"offset":0.808,"color":"#6690"},{"offset":0.8094,"color":"#669"},{"offset":0.8108,"color":"#6690"},
{"offset":0.816,"color":"#6690"},{"offset":0.8174,"color":"#669"},{"offset":0.8188,"color":"#6690"},
{"offset":0.824,"color":"#6690"},{"offset":0.8254,"color":"#669"},{"offset":0.8268,"color":"#6690"},
{"offset":0.832,"color":"#6690"},{"offset":0.8334,"color":"#669"},{"offset":0.8348,"color":"#6690"},
{"offset":0.84,"color":"#6690"},{"offset":0.8414,"color":"#669"},{"offset":0.8428,"color":"#6690"},
{"offset":0.848,"color":"#6690"},{"offset":0.8494,"color":"#669"},{"offset":0.8508,"color":"#6690"},
{"offset":0.856,"color":"#6690"},{"offset":0.8574,"color":"#669"},{"offset":0.8588,"color":"#6690"},
{"offset":0.864,"color":"#6690"},{"offset":0.8654,"color":"#669"},{"offset":0.8668,"color":"#6690"},
{"offset":0.872,"color":"#6690"},{"offset":0.8734,"color":"#669"},{"offset":0.8748,"color":"#6690"},
{"offset":0.88,"color":"#6690"},{"offset":0.8814,"color":"#669"},{"offset":0.8828,"color":"#6690"},
{"offset":0.888,"color":"#6690"},{"offset":0.8894,"color":"#669"},{"offset":0.8908,"color":"#6690"},
{"offset":0.896,"color":"#6690"},{"offset":0.8974,"color":"#669"},{"offset":0.8988,"color":"#6690"},
{"offset":0.904,"color":"#6690"},{"offset":0.9054,"color":"#669"},{"offset":0.9068,"color":"#6690"},
{"offset":0.912,"color":"#6690"},{"offset":0.9134,"color":"#669"},{"offset":0.9148,"color":"#6690"},
{"offset":0.92,"color":"#6690"},{"offset":0.9214,"color":"#669"},{"offset":0.9228,"color":"#6690"},
{"offset":0.928,"color":"#6690"},{"offset":0.9294,"color":"#669"},{"offset":0.9308,"color":"#6690"},
{"offset":0.936,"color":"#6690"},{"offset":0.9374,"color":"#669"},{"offset":0.9388,"color":"#6690"},
{"offset":0.944,"color":"#6690"},{"offset":0.9454,"color":"#669"},{"offset":0.9468,"color":"#6690"},
{"offset":0.952,"color":"#6690"},{"offset":0.9534,"color":"#669"},{"offset":0.9548,"color":"#6690"},
{"offset":0.96,"color":"#6690"},{"offset":0.9614,"color":"#669"},{"offset":0.9628,"color":"#6690"},
{"offset":0.968,"color":"#6690"},{"offset":0.9694,"color":"#669"},{"offset":0.9708,"color":"#6690"},
{"offset":0.976,"color":"#6690"},{"offset":0.9774,"color":"#669"},{"offset":0.9788,"color":"#6690"},
{"offset":0.984,"color":"#6690"},{"offset":0.9854,"color":"#669"},{"offset":0.9868,"color":"#6690"},
{"offset":0.992,"color":"#6690"},{"offset":0.9934,"color":"#669"},{"offset":0.9948,"color":"#6690"},
{"offset":1,"color":"#6690"}
      ]}},
      "encoding": {
        "y": {"field": "hi", "type": "quantitative", "title": "DSC /(mW/mg)"},
        "y2": {"field": "lo"}
      }
    },
    {
      "data": {"name": "regions"},
      "transform": [{"filter": "datum.s === 'p'"}],
      "mark": {"type": "area", "interpolate": "monotone", "fill": {"gradient": "linear", "x1": 0, "y1": 0, "x2": 0, "y2": 1, "stops": [
{"offset":0,"color":"#8790"},{"offset":0.003125,"color":"#879"},{"offset":0.00625,"color":"#8790"},
{"offset":0.03125,"color":"#8790"},{"offset":0.034375,"color":"#879"},{"offset":0.0375,"color":"#8790"},
{"offset":0.0625,"color":"#8790"},{"offset":0.065625,"color":"#879"},{"offset":0.06875,"color":"#8790"},
{"offset":0.09375,"color":"#8790"},{"offset":0.096875,"color":"#879"},{"offset":0.1,"color":"#8790"},
{"offset":0.125,"color":"#8790"},{"offset":0.128125,"color":"#879"},{"offset":0.13125,"color":"#8790"},
{"offset":0.15625,"color":"#8790"},{"offset":0.159375,"color":"#879"},{"offset":0.1625,"color":"#8790"},
{"offset":0.1875,"color":"#8790"},{"offset":0.190625,"color":"#879"},{"offset":0.19375,"color":"#8790"},
{"offset":0.21875,"color":"#8790"},{"offset":0.221875,"color":"#879"},{"offset":0.225,"color":"#8790"},
{"offset":0.25,"color":"#8790"},{"offset":0.253125,"color":"#879"},{"offset":0.25625,"color":"#8790"},
{"offset":0.28125,"color":"#8790"},{"offset":0.284375,"color":"#879"},{"offset":0.2875,"color":"#8790"},
{"offset":0.3125,"color":"#8790"},{"offset":0.315625,"color":"#879"},{"offset":0.31875,"color":"#8790"},
{"offset":0.34375,"color":"#8790"},{"offset":0.346875,"color":"#879"},{"offset":0.35,"color":"#8790"},
{"offset":0.375,"color":"#8790"},{"offset":0.378125,"color":"#879"},{"offset":0.38125,"color":"#8790"},
{"offset":0.40625,"color":"#8790"},{"offset":0.409375,"color":"#879"},{"offset":0.4125,"color":"#8790"},
{"offset":0.4375,"color":"#8790"},{"offset":0.440625,"color":"#879"},{"offset":0.44375,"color":"#8790"},
{"offset":0.46875,"color":"#8790"},{"offset":0.471875,"color":"#879"},{"offset":0.475,"color":"#8790"},
{"offset":0.5,"color":"#8790"},{"offset":0.503125,"color":"#879"},{"offset":0.50625,"color":"#8790"},
{"offset":0.53125,"color":"#8790"},{"offset":0.534375,"color":"#879"},{"offset":0.5375,"color":"#8790"},
{"offset":0.5625,"color":"#8790"},{"offset":0.565625,"color":"#879"},{"offset":0.56875,"color":"#8790"},
{"offset":0.59375,"color":"#8790"},{"offset":0.596875,"color":"#879"},{"offset":0.6,"color":"#8790"},
{"offset":0.625,"color":"#8790"},{"offset":0.628125,"color":"#879"},{"offset":0.63125,"color":"#8790"},
{"offset":0.65625,"color":"#8790"},{"offset":0.659375,"color":"#879"},{"offset":0.6625,"color":"#8790"},
{"offset":0.6875,"color":"#8790"},{"offset":0.690625,"color":"#879"},{"offset":0.69375,"color":"#8790"},
{"offset":0.71875,"color":"#8790"},{"offset":0.721875,"color":"#879"},{"offset":0.725,"color":"#8790"},
{"offset":0.75,"color":"#8790"},{"offset":0.753125,"color":"#879"},{"offset":0.75625,"color":"#8790"},
{"offset":0.78125,"color":"#8790"},{"offset":0.784375,"color":"#879"},{"offset":0.7875,"color":"#8790"},
{"offset":0.8125,"color":"#8790"},{"offset":0.815625,"color":"#879"},{"offset":0.81875,"color":"#8790"},
{"offset":0.84375,"color":"#8790"},{"offset":0.846875,"color":"#879"},{"offset":0.85,"color":"#8790"},
{"offset":0.875,"color":"#8790"},{"offset":0.878125,"color":"#879"},{"offset":0.88125,"color":"#8790"},
{"offset":0.90625,"color":"#8790"},{"offset":0.909375,"color":"#879"},{"offset":0.9125,"color":"#8790"},
{"offset":0.9375,"color":"#8790"},{"offset":0.940625,"color":"#879"},{"offset":0.94375,"color":"#8790"},
{"offset":0.96875,"color":"#8790"},{"offset":0.971875,"color":"#879"},{"offset":0.975,"color":"#8790"},
{"offset":1,"color":"#8790"}
      ]}},
      "encoding": {
        "y": {"field": "hi", "type": "quantitative", "title": "DSC /(mW/mg)"},
        "y2": {"field": "lo"}
      }
    },
    {
      "data": {"name": "bases"},
      "mark": {"type": "line", "interpolate": "monotone", "strokeWidth": 1},
      "encoding": {
        "detail": {"field": "s"},
        "stroke": {"field": "s", "type": "nominal", "scale": {"domain": ["p","b","g"], "range": ["#9a7a9a","#7a7ab0","#6a926a"]}, "legend": null}
      }
    },
    {
      "data": {"name": "leaders"},
      "mark": {"type": "line", "strokeWidth": 1, "color": "#8a8a8a"},
      "encoding": {"detail": {"field": "id"}}
    },
    {
      "data": {"name": "curves"},
      "mark": {"type": "line", "interpolate": "monotone", "strokeWidth": 2},
      "encoding": {
        "detail": {"field": "s"},
        "color": {"field": "s", "type": "nominal", "scale": {"domain": ["p","b","g"], "range": ["#7d2f6b","#2424a8","#2d7a2d"]}, "legend": null}
      }
    },
    {
      "data": {"name": "marks"},
      "mark": {"type": "point", "shape": "M0,-1L0,1", "filled": false, "size": 60, "strokeWidth": 1.3, "opacity": 1},
      "encoding": {
        "stroke": {"field": "s", "type": "nominal", "scale": {"domain": ["p","b","g"], "range": ["#7d2f6b","#2424a8","#2d7a2d"]}, "legend": null}
      }
    },
    {
      "data": {"name": "arealabels"},
      "mark": {"type": "text", "align": "left", "baseline": "middle", "fontSize": 11},
      "encoding": {
        "text": {"field": "text"},
        "color": {"field": "s", "type": "nominal", "scale": {"domain": ["p","b","g"], "range": ["#8e3d80","#3c3caa","#3a8a3a"]}, "legend": null}
      }
    },
    {
      "data": {"name": "idlabels"},
      "mark": {"type": "text", "align": "left", "baseline": "middle", "fontSize": 9},
      "encoding": {
        "text": {"field": "text"},
        "color": {"field": "s", "type": "nominal", "scale": {"domain": ["p","b","g"], "range": ["#8e3d80","#3c3caa","#2f7f2f"]}, "legend": null}
      }
    },
    {
      "data": {"name": "notes"},
      "mark": {"type": "text", "align": "left", "baseline": "middle", "fontSize": 14, "color": "#222"},
      "encoding": {"text": {"field": "text"}}
    }
  ]
}
